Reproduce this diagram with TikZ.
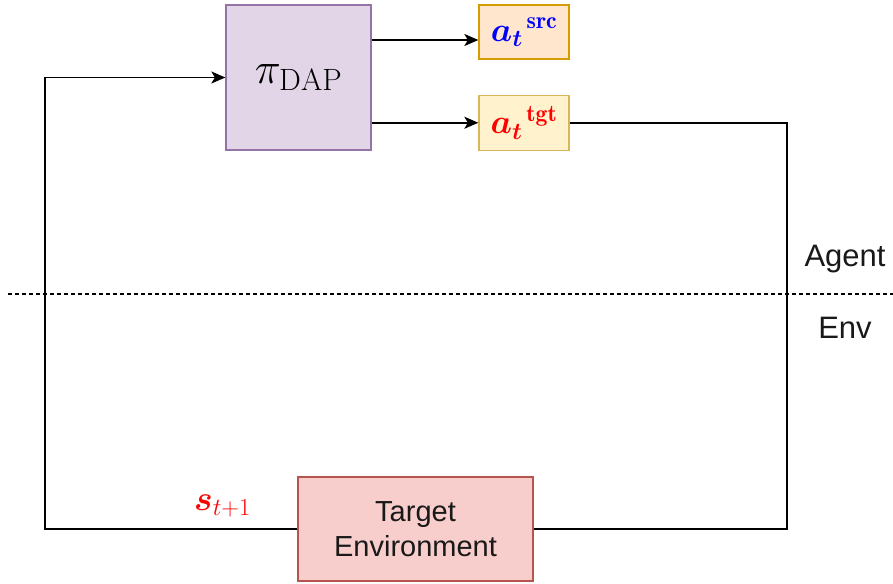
\RequirePackage{fix-cm}
\documentclass[tikz,border=0pt]{standalone}
\usepackage{amsmath}
\usepackage{fontspec}
\newfontfamily\labelfont{Liberation Sans}
\usetikzlibrary{arrows.meta}

\definecolor{polfill}{HTML}{E1D5E7}
\definecolor{poldraw}{HTML}{9673A6}
\definecolor{srcfill}{HTML}{FFE6CC}
\definecolor{srcdraw}{HTML}{D79B00}
\definecolor{tgtfill}{HTML}{FFF2CC}
\definecolor{tgtdraw}{HTML}{D6B656}
\definecolor{envfill}{HTML}{F8CECC}
\definecolor{envdraw}{HTML}{B85450}

\tikzset{
  block/.style={draw, line width=1.3pt, inner sep=0pt, align=center},
  wire/.style={line width=1.6pt, black},
  arr/.style={wire, -{Stealth[length=14pt,width=12pt,inset=3.5pt]}},
  sidelabel/.style={anchor=base, font=\labelfont\fontsize{31}{37}\selectfont, text=black!90}
}

\begin{document}
\begin{tikzpicture}[x=1pt,y=-1pt]
  \useasboundingbox (0,0) rectangle (893,583);

  % agent side: policy and its two outputs
  \node[block, fill=polfill, draw=poldraw, minimum width=145pt, minimum height=145pt]
    (pi) at (298.5,77.5) {\fontsize{44}{48}\selectfont$\pi_{\mathrm{DAP}}$};
  \node[block, fill=srcfill, draw=srcdraw, minimum width=90pt, minimum height=54pt]
    (src) at (524,32) {\fontsize{34}{38}\selectfont$\color{blue}{\boldsymbol{a}_{\boldsymbol{t}}}^{\,\mathbf{src}}$};
  \node[block, fill=tgtfill, draw=tgtdraw, minimum width=90pt, minimum height=55pt]
    (tgt) at (524,122.75) {\fontsize{34}{38}\selectfont$\color{red}{\boldsymbol{a}_{\boldsymbol{t}}}^{\,\mathbf{tgt}}$};

  % environment side
  \node[block, fill=envfill, draw=envdraw, minimum width=235pt, minimum height=104pt,
        font=\labelfont\fontsize{29}{35}\selectfont, text=black!90]
    (env) at (415.5,529) {Target\\Environment};

  % corners of the loop on the agent/env boundary
  \coordinate (rc) at (787,294);
  \coordinate (lc) at (45,294);

  % policy outputs
  \draw[arr] (pi.east |- 0,40) -- (src.west |- 0,40);
  \draw[arr] (pi.east |- tgt.west) -- (tgt.west);

  % action goes to the environment, next state comes back to the policy
  \draw[wire] (tgt.east) -| (rc) |- (env.east);
  \draw[arr] (env.west) -| (lc) |- (pi.west);

  % agent / environment boundary
  \draw[line width=1.2pt, dash pattern=on 4pt off 3pt] (8,294) -- (893,294);
  \node[sidelabel] (agentlbl) at (845,266) {Agent};
  \node[sidelabel] (envlbl) at (845,338) {Env};

  % next-state label
  \node[anchor=base west, inner sep=0pt] (state) at (194,510)
    {\fontsize{35}{40}\selectfont$\color{red}\boldsymbol{s}_{t+1}$};
\end{tikzpicture}
\end{document}
